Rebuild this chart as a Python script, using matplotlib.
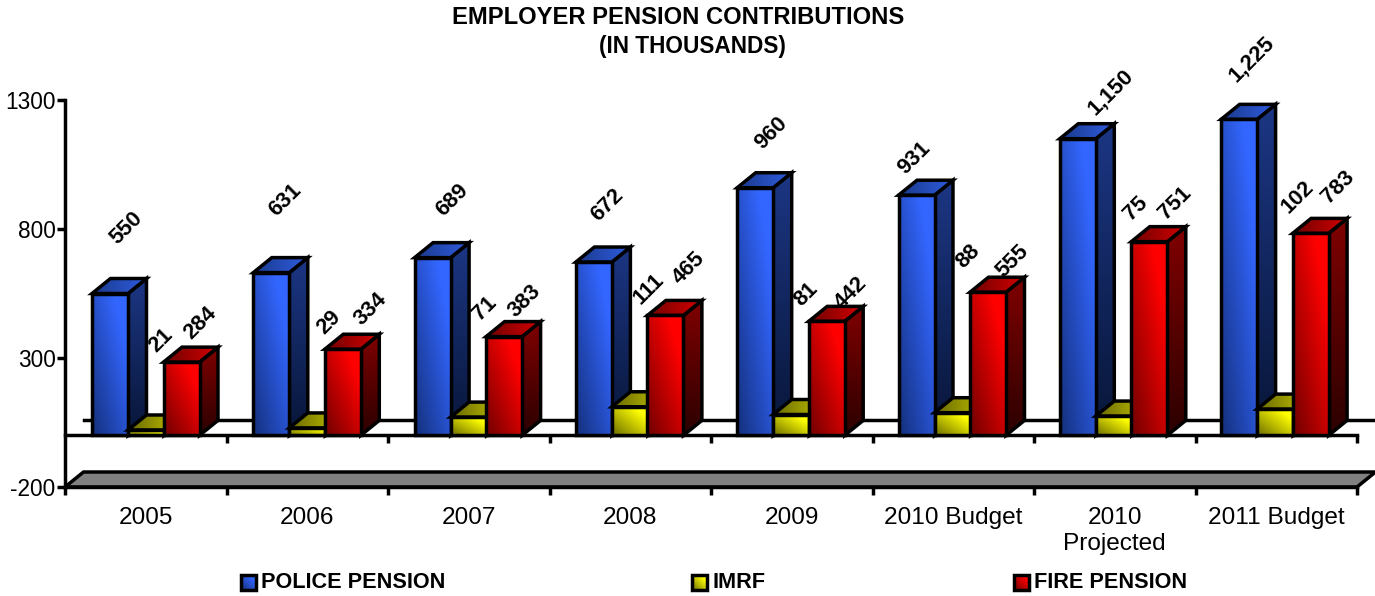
import numpy as np
import matplotlib
matplotlib.use('Agg')
import matplotlib.pyplot as plt
from matplotlib.patches import Polygon

plt.rcParams['font.family'] = ['Liberation Sans', 'DejaVu Sans']
plt.rcParams['axes.unicode_minus'] = False

categories = ['2005', '2006', '2007', '2008', '2009', '2010 Budget', '2010\nProjected', '2011 Budget']
police = [550, 631, 689, 672, 960, 931, 1150, 1225]
imrf = [21, 29, 71, 111, 81, 88, 75, 102]
fire = [284, 334, 383, 465, 442, 555, 751, 783]

# label nudges in pixels from the top centre of each bar, the original is uneven
police_nudge = [(16, 65), (14, 72), (19, 57), (13, 57), (15, 55), (-3, 37), (32, 47), (11, 60)]
imrf_nudge = [(15, 90), (21, 105), (15, 109), (18, 118), (14, 120), (14, 156), (20, 208), (21, 212)]
fire_nudge = [(18, 39), (27, 40), (20, 35), (22, 47), (23, 28), (23, 31), (24, 39), (26, 46)]

W, H = 1375, 596
CAT_W = 161.5
BAR_STEP = 161.3
PX_PER_UNIT = 0.258
BAR_W = 36 / CAT_W
DEPTH_X = 18.5 / CAT_W
DEPTH_Y = 15 / PX_PER_UNIT
LW = 2.5

fig = plt.figure(figsize=(W / 100, H / 100), dpi=100)
ax = fig.add_axes([0, 0, 1, 1])
ax.set_xlim(-65 / CAT_W, (W - 65) / CAT_W)
ax.set_ylim(-200 - (H - 487) / PX_PER_UNIT, 1300 + 100 / PX_PER_UNIT)
ax.patch.set_visible(False)

z = [10]


def hex_rgb(c):
    return np.array(matplotlib.colors.to_rgb(c))


def shaded(poly, c0, c1, mode):
    # gradient face: an image clipped to the polygon, with a black outline
    poly = np.array(poly)
    x0, x1 = poly[:, 0].min(), poly[:, 0].max()
    y0, y1 = poly[:, 1].min(), poly[:, 1].max()
    u, v = np.meshgrid(np.linspace(0, 1, 40), np.linspace(1, 0, 80))
    if mode == 'diag':
        t = np.clip((u + v) / 2 * 1.25, 0, 1)
    elif mode == 'vert':
        t = v
    else:
        t = u
    img = hex_rgb(c0) + (hex_rgb(c1) - hex_rgb(c0)) * t[..., None]
    z[0] += 1
    im = ax.imshow(img, extent=[x0, x1, y0, y1], aspect='auto', zorder=z[0], interpolation='bilinear')
    patch = Polygon(poly, closed=True, fill=False, edgecolor='black', lw=LW,
                    joinstyle='miter', zorder=z[0] + 0.5)
    ax.add_patch(patch)
    im.set_clip_path(patch)


def bar3d(x, val, front, side, top):
    xr = x + BAR_W
    shaded([(xr, 0), (xr + DEPTH_X, DEPTH_Y), (xr + DEPTH_X, val + DEPTH_Y), (xr, val)], side[0], side[1], 'vert')
    shaded([(x, val), (xr, val), (xr + DEPTH_X, val + DEPTH_Y), (x + DEPTH_X, val + DEPTH_Y)], top[0], top[1], 'horiz')
    shaded([(x, 0), (xr, 0), (xr, val), (x, val)], front[0], front[1], 'diag')


BLUE = (('#14307c', '#3366ff'), ('#081638', '#1c3684'), ('#1a3a8c', '#2f5ce0'))
YELLOW = (('#6e6e00', '#ffff00'), ('#3a3a00', '#808000'), ('#6a6a00', '#c4c400'))
RED = (('#700000', '#ff0000'), ('#2c0000', '#800000'), ('#700000', '#d40000'))

# floor and back wall line
ax.add_patch(Polygon([(0, -200), (8, -200), (8 + DEPTH_X, -200 + DEPTH_Y), (DEPTH_X, -200 + DEPTH_Y)],
                     closed=True, facecolor='#808080', edgecolor='black', lw=LW, joinstyle='miter', zorder=3))
ax.plot([DEPTH_X, 8 + DEPTH_X], [DEPTH_Y, DEPTH_Y], color='black', lw=LW, zorder=3)
ax.plot([0, 8], [0, 0], color='black', lw=LW, zorder=4)
ax.vlines(np.arange(1, 9), -31, 0, color='black', lw=LW, zorder=4)

for i in range(len(categories)):
    x = i * BAR_STEP / CAT_W + 27 / CAT_W
    bar3d(x, police[i], *BLUE)
    bar3d(x + 36 / CAT_W, imrf[i], *YELLOW)
    bar3d(x + 71.5 / CAT_W, fire[i], *RED)
    series = [(police, police_nudge, i + 45 / CAT_W),
              (imrf, imrf_nudge, i + 81.5 / CAT_W),
              (fire, fire_nudge, i + 117 / CAT_W)]
    for vals, nudge, cx in series:
        ax.annotate(f'{vals[i]:,}', xy=(cx, vals[i]), xytext=nudge[i], textcoords='offset pixels',
                    rotation=45, rotation_mode='anchor', ha='center', va='center',
                    fontsize=15.8, fontweight='bold', color='black', zorder=200)

# real axes: the spines sit at the chart's origin inside the full figure axes
for s in ['top', 'right']:
    ax.spines[s].set_visible(False)
ax.spines['left'].set_position(('data', 0))
ax.spines['left'].set_bounds(-200, 1300)
ax.spines['bottom'].set_position(('data', -200))
ax.spines['bottom'].set_bounds(0, 8)
ax.spines['left'].set_linewidth(LW)
ax.spines['bottom'].set_linewidth(LW)
ax.spines['left'].set_zorder(5)
ax.spines['bottom'].set_zorder(5)

ax.set_yticks([-200, 300, 800, 1300])
ax.tick_params(axis='y', length=5.8, width=LW, pad=1, labelsize=16.3)
ax.set_xticks(np.arange(0, 9))
ax.set_xticklabels([])
ax.tick_params(axis='x', which='major', length=5.8, width=LW)
ax.set_xticks(np.arange(len(categories)) + 0.5, minor=True)
ax.set_xticklabels(categories, minor=True, fontsize=17.6, linespacing=1.25)
ax.tick_params(axis='x', which='minor', length=0, pad=14.5)

fig.text(678 / W, 1 - 17.5 / H, 'EMPLOYER PENSION CONTRIBUTIONS', ha='center', va='center',
         fontsize=17.1, fontweight='bold')
fig.text(692 / W, 1 - 46.5 / H, '(IN THOUSANDS)', ha='center', va='center',
         fontsize=16.3, fontweight='bold')

# legend drawn by hand to keep the wide spacing
legend_names = ['POLICE PENSION', 'IMRF', 'FIRE PENSION']
legend_px = [241, 692, 1014]
legend_cols = [BLUE[0], YELLOW[0], RED[0]]
for name, px, cols in zip(legend_names, legend_px, legend_cols):
    x0 = (px - 65) / CAT_W
    x1 = x0 + 15 / CAT_W
    y1 = (435.4 - 575) / PX_PER_UNIT
    y0 = (435.4 - 590) / PX_PER_UNIT
    shaded([(x0, y0), (x1, y0), (x1, y1), (x0, y1)], cols[0], cols[1], 'diag')
    ax.text(x1 + 5 / CAT_W, (435.4 - 582) / PX_PER_UNIT, name, ha='left', va='center',
            fontsize=15.6, fontweight='bold')

ax.set_xlim(-65 / CAT_W, (W - 65) / CAT_W)
ax.set_ylim(-200 - (H - 487) / PX_PER_UNIT, 1300 + 100 / PX_PER_UNIT)

fig.savefig('out.png', dpi=100)
